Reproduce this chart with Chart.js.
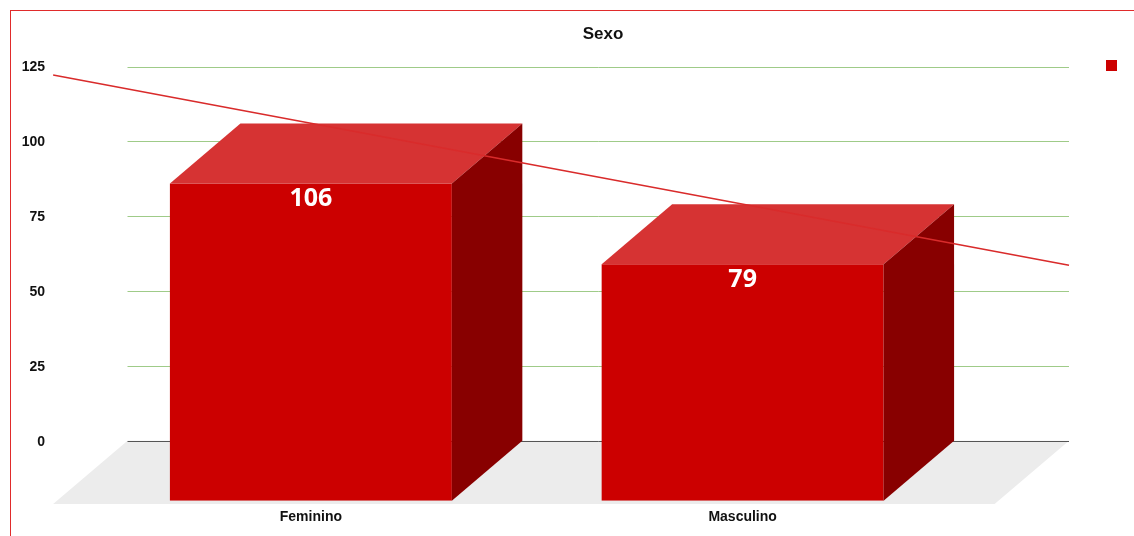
<!DOCTYPE html>
<html>
<head>
<meta charset="utf-8">
<title>Sexo</title>
<script src="https://cdn.jsdelivr.net/npm/chart.js@4.4.1/dist/chart.umd.min.js"></script>
<style>
  html, body { margin: 0; padding: 0; background: #fff; overflow: hidden; }
  #frame {
    position: absolute; left: 10px; top: 10px;
    width: 1300px; height: 700px;
    border: 1px solid #e02b2b;
  }
  #chart { position: absolute; left: 0; top: 0; }
</style>
</head>
<body>
<div id="frame"></div>
<canvas id="chart" width="1134" height="536"></canvas>
<script>
// data
const categories = ["Feminino", "Masculino"];
const values = [106, 79];
const yTicks = [0, 25, 50, 75, 100, 125];

// look of the 3d block
const DEPTH_X = 70.5;
const DEPTH_Y = 60;
const FLOOR_SCALE = 1.055;     // floor is a little deeper than the bars
const TREND_DEPTH = 0.18;      // trendline sits slightly in front of the back wall
const FRONT = "#cc0000";
const TOP = "#d63333";
const SIDE = "#880000";

const font = (size, family) => `bold ${size}px ${family || '"Liberation Sans", Arial, sans-serif'}`;

function leastSquares(ys) {
  const n = ys.length;
  let sx = 0, sy = 0, sxx = 0, sxy = 0;
  ys.forEach((y, i) => { sx += i; sy += y; sxx += i * i; sxy += i * y; });
  const slope = (n * sxy - sx * sy) / (n * sxx - sx * sx);
  return { slope, intercept: (sy - slope * sx) / n };
}

const box3d = {
  id: "box3d",
  beforeDatasetsDraw(chart) {
    const { ctx, chartArea: a, scales: { y } } = chart;
    const zero = y.getPixelForValue(0);
    const backL = a.left - 38 + DEPTH_X;
    const backR = a.right + 40 + DEPTH_X;
    const fx = DEPTH_X * FLOOR_SCALE, fy = DEPTH_Y * FLOOR_SCALE;

    ctx.save();
    // floor
    ctx.fillStyle = "#ececec";
    ctx.beginPath();
    ctx.moveTo(backL, zero - DEPTH_Y);
    ctx.lineTo(backR, zero - DEPTH_Y);
    ctx.lineTo(backR - fx, zero - DEPTH_Y + fy);
    ctx.lineTo(backL - fx, zero - DEPTH_Y + fy);
    ctx.closePath();
    ctx.fill();

    // grid on the back wall
    ctx.lineWidth = 1;
    yTicks.forEach(v => {
      const py = Math.round(y.getPixelForValue(v) - DEPTH_Y) + 0.5;
      ctx.strokeStyle = v === 0 ? "#555555" : "#9fcb88";
      ctx.beginPath();
      ctx.moveTo(backL, py);
      ctx.lineTo(backR, py);
      ctx.stroke();
    });

    // y labels
    ctx.fillStyle = "#111";
    ctx.font = font(14);
    ctx.textAlign = "right";
    ctx.textBaseline = "middle";
    yTicks.forEach(v => ctx.fillText(String(v), 45, y.getPixelForValue(v) - DEPTH_Y + 1));
    ctx.restore();
  },
  afterDatasetsDraw(chart) {
    const { ctx, scales: { x, y } } = chart;
    const bars = chart.getDatasetMeta(0).data;

    ctx.save();
    bars.forEach(b => {
      const l = b.x - b.width / 2, r = b.x + b.width / 2;
      // top face
      ctx.fillStyle = TOP;
      ctx.beginPath();
      ctx.moveTo(l, b.y);
      ctx.lineTo(l + DEPTH_X, b.y - DEPTH_Y);
      ctx.lineTo(r + DEPTH_X, b.y - DEPTH_Y);
      ctx.lineTo(r, b.y);
      ctx.closePath();
      ctx.fill();
      // side face
      ctx.fillStyle = SIDE;
      ctx.beginPath();
      ctx.moveTo(r, b.y);
      ctx.lineTo(r + DEPTH_X, b.y - DEPTH_Y);
      ctx.lineTo(r + DEPTH_X, b.base - DEPTH_Y);
      ctx.lineTo(r, b.base);
      ctx.closePath();
      ctx.fill();
    });

    // linear trendline, projected into the box
    const fit = leastSquares(values);
    const dx = DEPTH_X * (1 - TREND_DEPTH), dy = DEPTH_Y * (1 - TREND_DEPTH);
    const p0 = { x: x.getPixelForValue(0) + dx, y: y.getPixelForValue(fit.intercept) - dy };
    const p1 = { x: x.getPixelForValue(1) + dx, y: y.getPixelForValue(fit.intercept + fit.slope) - dy };
    const k = (p1.y - p0.y) / (p1.x - p0.x);
    const a = chart.chartArea;
    const xs = a.left - 38 + DEPTH_X - DEPTH_X * FLOOR_SCALE;
    const xe = a.right + 40 + DEPTH_X;
    ctx.strokeStyle = "#d92b2b";
    ctx.lineWidth = 1.5;
    ctx.beginPath();
    ctx.moveTo(xs, p0.y + k * (xs - p0.x));
    ctx.lineTo(xe, p0.y + k * (xe - p0.x));
    ctx.stroke();

    // value labels
    ctx.fillStyle = "#fff";
    ctx.font = font(25, '"Open Sans", "DejaVu Sans", sans-serif');
    ctx.textAlign = "center";
    ctx.textBaseline = "alphabetic";
    bars.forEach((b, i) => ctx.fillText(String(values[i]), b.x, b.y + 23));

    // title and legend marker
    ctx.fillStyle = "#111";
    ctx.font = font(17);
    ctx.textBaseline = "middle";
    ctx.fillText("Sexo", 603, 34);
    ctx.fillStyle = FRONT;
    ctx.fillRect(1106, 60, 11, 11);
    ctx.restore();
  }
};

new Chart(document.getElementById("chart"), {
  type: "bar",
  data: {
    labels: categories,
    datasets: [{
      data: values,
      backgroundColor: FRONT,
      borderWidth: 0,
      categoryPercentage: 1,
      barPercentage: 0.653
    }]
  },
  options: {
    responsive: false,
    animation: false,
    devicePixelRatio: 1,
    layout: { padding: { left: 95, right: 175.5, top: 126.5, bottom: 2.5 } },
    plugins: { legend: { display: false }, tooltip: { enabled: false } },
    scales: {
      y: { display: false, min: 0, max: 125, ticks: { stepSize: 25 } },
      x: {
        grid: { display: false, drawTicks: false },
        border: { display: false },
        ticks: { color: "#111", padding: 8, font: { family: '"Liberation Sans", Arial, sans-serif', size: 14, weight: "bold" } }
      }
    }
  },
  plugins: [box3d]
});
</script>
</body>
</html>
